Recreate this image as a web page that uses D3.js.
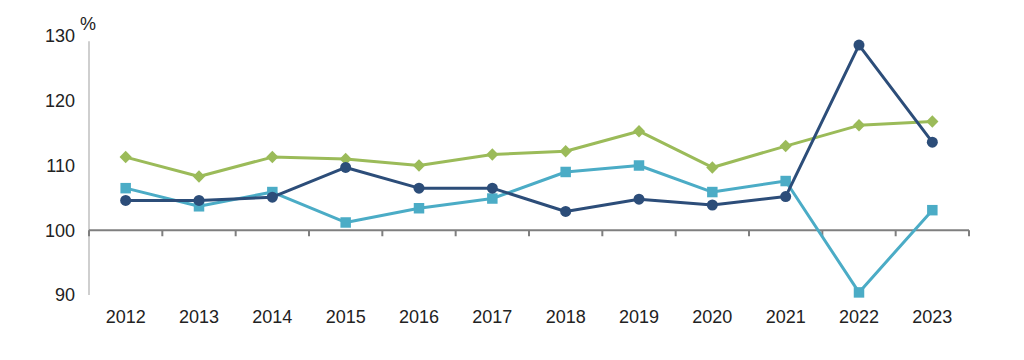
<!DOCTYPE html>
<html><head><meta charset="utf-8">
<script src="https://cdn.jsdelivr.net/npm/d3@7"></script>
<style>body{margin:0;background:#fff}svg{display:block;font-family:"Liberation Sans",Arial,sans-serif}</style>
</head><body>
<svg id="c" width="1024" height="360"></svg>
<script>
const years = ["2012","2013","2014","2015","2016","2017","2018","2019","2020","2021","2022","2023"];
const navy  = [104.6,104.6,105.1,109.7,106.5,106.5,102.9,104.8,103.9,105.2,128.6,113.6];
const teal  = [106.5,103.7,105.9,101.2,103.4,104.9,109.0,110.0,105.9,107.6,90.4,103.1];
const green = [111.3,108.3,111.3,111.0,110.0,111.7,112.2,115.3,109.7,113.0,116.2,116.8];
const yTicks = [90,100,110,120,130];

const svg = d3.select("#c");
const x = d3.scaleBand().domain(years).range([89,969]);
const y = d3.scaleLinear().domain([90,130]).range([295,36]);

svg.append("line").attr("x1",89).attr("x2",89).attr("y1",y(129.2)).attr("y2",y(90)).attr("stroke","#bfbfbf").attr("stroke-width",1.5);
svg.selectAll(".yl").data(yTicks).enter().append("text")
  .attr("x",75).attr("y",d=>y(d)).attr("dy","0.36em").attr("text-anchor","end")
  .attr("font-size",18).attr("fill","#222").text(d=>d);
svg.append("text").attr("x",80).attr("y",30).attr("font-size",18).attr("fill","#222").text("%");

const xa = svg.append("g").attr("transform",`translate(0,${y(100)})`);
xa.append("line").attr("x1",89).attr("x2",969).attr("stroke","#7f7f7f").attr("stroke-width",2);
const bounds = years.map(d=>x(d)).concat([x(years[years.length-1])+x.bandwidth()]);
xa.selectAll(".tk").data(bounds).enter().append("line")
  .attr("x1",d=>d).attr("x2",d=>d).attr("y1",0).attr("y2",6).attr("stroke","#7f7f7f").attr("stroke-width",2);
svg.selectAll(".xl").data(years).enter().append("text")
  .attr("x",d=>x(d)+x.bandwidth()/2).attr("y",323).attr("text-anchor","middle")
  .attr("font-size",18).attr("fill","#222").text(d=>d);

const cx = d=>x(d)+x.bandwidth()/2;
const line = d3.line().x((d,i)=>cx(years[i])).y(d=>y(d));
const series = [
  {vals:green,color:"#9bbb59",shape:d3.symbolDiamond,size:45,sx:1.7},
  {vals:teal,color:"#4bacc6",shape:d3.symbolSquare,size:110,sx:1},
  {vals:navy,color:"#2c4d79",shape:d3.symbolCircle,size:95,sx:1}
];
series.forEach(s=>{
  svg.append("path").datum(s.vals).attr("d",line).attr("fill","none").attr("stroke",s.color).attr("stroke-width",3).attr("stroke-linejoin","round");
  svg.selectAll(null).data(s.vals).enter().append("path")
    .attr("d",d3.symbol().type(s.shape).size(s.size))
    .attr("transform",(d,i)=>`translate(${cx(years[i])},${y(d)}) scale(${s.sx},1)`)
    .attr("fill",s.color);
});
</script>
</body></html>
